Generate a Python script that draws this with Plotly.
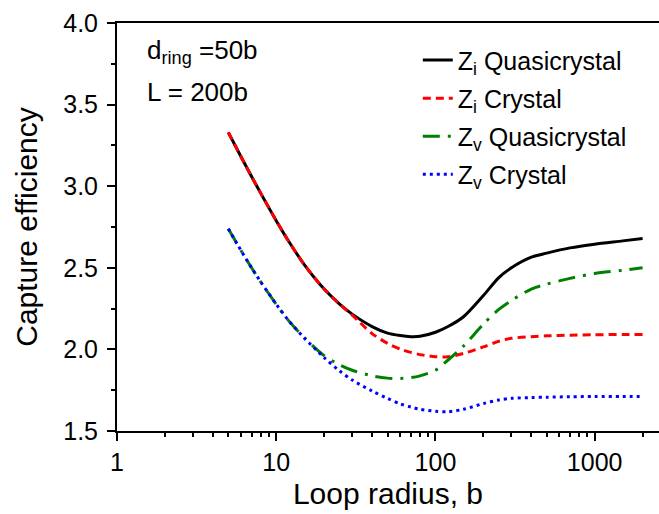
import plotly.graph_objects as go

# Loop radius (b)
loop_radius = [5, 6, 7, 8, 10, 12, 15, 20, 25, 30, 40, 50, 60, 70, 80, 100, 120, 150, 200, 250, 300, 400, 500, 700, 1000, 1500, 2000]

zi_quasicrystal = [3.33, 3.182, 3.059, 2.956, 2.789, 2.661, 2.52, 2.37, 2.278, 2.216, 2.14, 2.10, 2.085, 2.078, 2.08, 2.105, 2.14, 2.20, 2.33, 2.44, 2.50, 2.565, 2.59, 2.622, 2.645, 2.665, 2.68]
zi_crystal = [3.33, 3.182, 3.059, 2.956, 2.789, 2.661, 2.52, 2.37, 2.278, 2.21, 2.097, 2.037, 2.002, 1.982, 1.968, 1.955, 1.955, 1.975, 2.015, 2.05, 2.068, 2.078, 2.083, 2.087, 2.09, 2.091, 2.092]
zv_quasicrystal = [2.74, 2.607, 2.50, 2.413, 2.277, 2.175, 2.072, 1.962, 1.905, 1.872, 1.838, 1.824, 1.822, 1.827, 1.838, 1.872, 1.935, 2.02, 2.155, 2.245, 2.30, 2.37, 2.40, 2.435, 2.465, 2.485, 2.50]
zv_crystal = [2.74, 2.607, 2.50, 2.413, 2.277, 2.175, 2.07, 1.95, 1.868, 1.812, 1.745, 1.70, 1.667, 1.647, 1.633, 1.621, 1.618, 1.633, 1.668, 1.69, 1.70, 1.705, 1.707, 1.71, 1.711, 1.712, 1.712]

series_names = ["Z<sub>i</sub> Quasicrystal", "Z<sub>i</sub> Crystal", "Z<sub>v</sub> Quasicrystal", "Z<sub>v</sub> Crystal"]
series_values = [zi_quasicrystal, zi_crystal, zv_quasicrystal, zv_crystal]
series_colors = ["#000000", "#FF0000", "#008000", "#0000FF"]
series_dash = ["solid", "8px,5px", "17px,8px,3px,8px", "3px,4px"]
series_width = [3, 3, 3, 3]

x_tick_vals = [1, 10, 100, 1000]
x_tick_text = ["1", "10", "100", "1000"]
x_minor_vals = [m * d for d in (1, 10, 100, 1000) for m in range(2, 10) if m * d <= 2500]
y_tick_vals = [1.5, 2.0, 2.5, 3.0, 3.5, 4.0]
y_tick_text = ["1.5", "2.0", "2.5", "3.0", "3.5", "4.0"]

FONT = "Arial, Liberation Sans, sans-serif"

fig = go.Figure()
for i, (name, vals) in enumerate(zip(series_names, series_values)):
    fig.add_trace(go.Scatter(
        x=loop_radius, y=vals, mode="lines", name=name,
        legendgroup=f"g{i}",
        line=dict(color=series_colors[i], width=series_width[i], dash=series_dash[i], shape="spline", smoothing=0.8),
    ))

fig.update_layout(
    width=659, height=514,
    margin=dict(l=117, r=0, t=23, b=83, autoexpand=False),
    paper_bgcolor="white", plot_bgcolor="white",
    font=dict(family=FONT, size=25, color="black"),
    showlegend=True,
    legend=dict(
        x=0.555, y=0.965, xanchor="left", yanchor="top",
        bgcolor="rgba(0,0,0,0)", borderwidth=0,
        font=dict(family=FONT, size=25, color="black"),
        tracegroupgap=2.6,
    ),
    xaxis=dict(
        type="log", range=[0, 3.404], automargin=False,
        tickmode="array", tickvals=x_tick_vals, ticktext=x_tick_text,
        ticks="outside", ticklen=8, tickwidth=2, tickcolor="black",
        minor=dict(tickmode="array", tickvals=x_minor_vals, ticks="outside", ticklen=4, tickwidth=2, tickcolor="black"),
        showline=True, linewidth=2, linecolor="black", mirror=True,
        showgrid=False, zeroline=False,
        tickfont=dict(family=FONT, size=25),
        title=dict(text="Loop radius, b", font=dict(family=FONT, size=30), standoff=8),
    ),
    yaxis=dict(
        range=[1.5, 4.0], automargin=False,
        tickmode="array", tickvals=y_tick_vals, ticktext=y_tick_text,
        ticks="outside", ticklen=8, tickwidth=2, tickcolor="black",
        minor=dict(dtick=0.25, ticks="outside", ticklen=4, tickwidth=2, tickcolor="black"),
        showline=True, linewidth=2, linecolor="black", mirror=False,
        showgrid=False, zeroline=False,
        tickfont=dict(family=FONT, size=25),
        ticklabelstandoff=4,
        title=dict(text="Capture efficiency", font=dict(family=FONT, size=30), standoff=17),
    ),
)

fig.add_annotation(xref="paper", yref="paper", x=(145 - 117) / 542, y=(431 - 70) / 408,
                   xanchor="left", yanchor="bottom", showarrow=False,
                   text="d<sub>ring</sub> =50b", font=dict(family=FONT, size=26))
fig.add_annotation(xref="paper", yref="paper", x=(145 - 117) / 542, y=(431 - 109) / 408,
                   xanchor="left", yanchor="bottom", showarrow=False,
                   text="L = 200b", font=dict(family=FONT, size=26))

fig.write_html("out.html", config={"displayModeBar": False},
               post_script="document.body.style.margin='0';document.body.style.padding='0';")
